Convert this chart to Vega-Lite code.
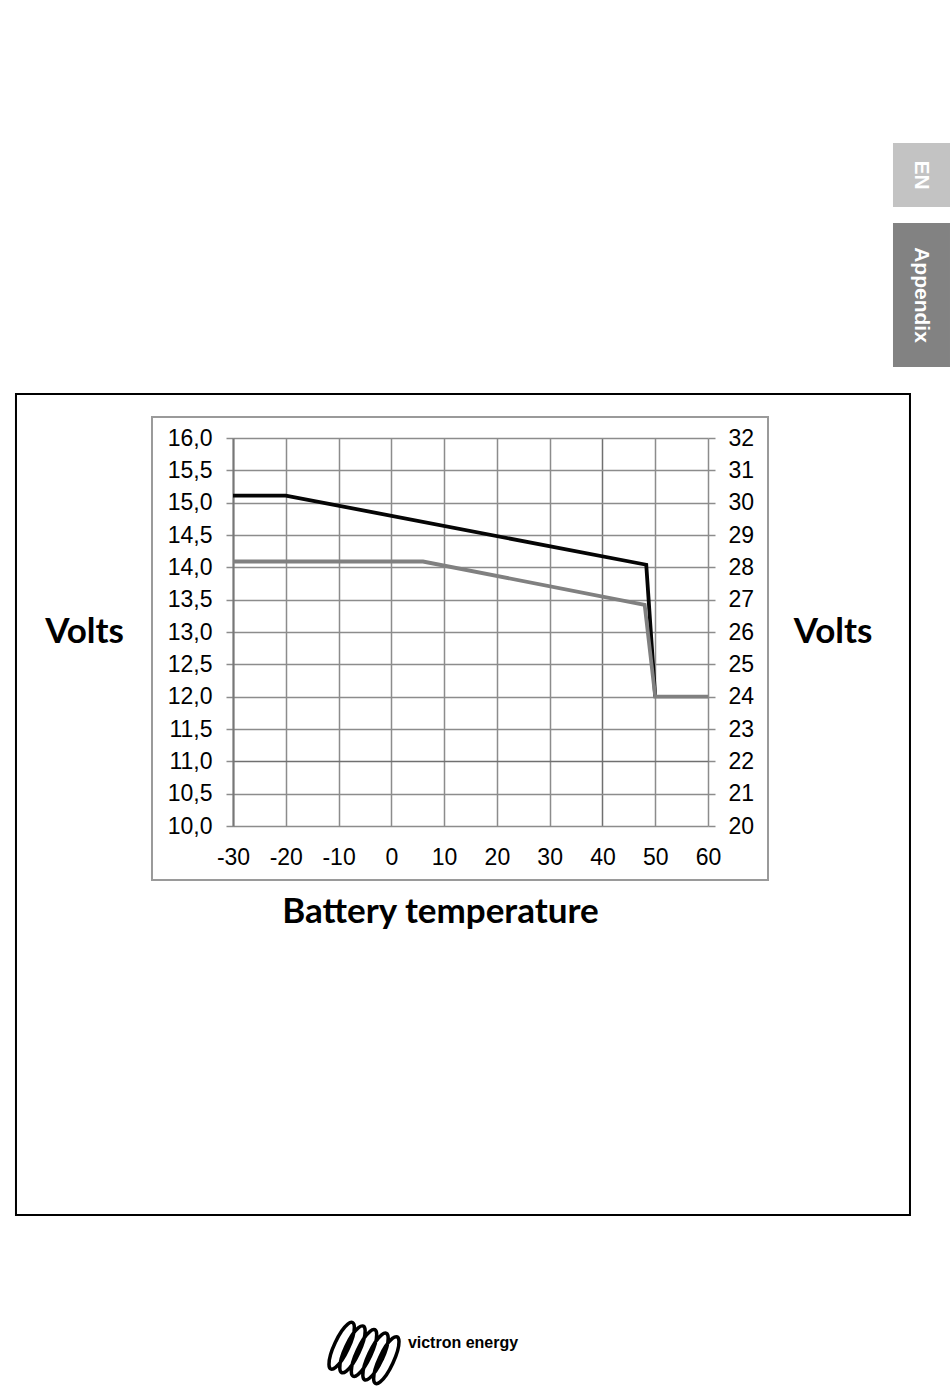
{
  "$schema": "https://vega.github.io/schema/vega-lite/v6.json",
  "width": 475,
  "height": 388,
  "autosize": {"type": "none"},
  "padding": {"left": 233, "top": 438, "right": 242, "bottom": 566},
  "background": "white",
  "config": {"view": {"stroke": null}},
  "datasets": {
    "lines": [
      {"temp": -30, "volts": 15.11, "series": "absorption"},
      {"temp": -20, "volts": 15.11, "series": "absorption"},
      {"temp": 48.3, "volts": 14.04, "series": "absorption"},
      {"temp": 50, "volts": 12.0, "series": "absorption"},
      {"temp": -30, "volts": 14.09, "series": "float"},
      {"temp": 6, "volts": 14.09, "series": "float"},
      {"temp": 48, "volts": 13.42, "series": "float"},
      {"temp": 50, "volts": 12.0, "series": "float"},
      {"temp": 60, "volts": 12.0, "series": "float"}
    ],
    "one": [{"k": 1}]
  },
  "layer": [
    {
      "data": {"name": "one"},
      "mark": {"type": "rect", "filled": false, "stroke": "#000000", "strokeWidth": 2},
      "encoding": {
        "x": {"datum": -71.12, "type": "quantitative", "scale": {"domain": [-30, 60], "nice": false, "zero": false}, "axis": null},
        "x2": {"datum": 98.27},
        "y": {"datum": 16.68, "type": "quantitative", "scale": {"domain": [10, 16], "nice": false, "zero": false}, "axis": null},
        "y2": {"datum": 3.985}
      }
    },
    {
      "data": {"name": "one"},
      "mark": {"type": "rect", "filled": false, "stroke": "#9a9a9a", "strokeWidth": 2},
      "encoding": {
        "x": {"datum": -45.35, "type": "quantitative", "scale": {"domain": [-30, 60], "nice": false, "zero": false}, "axis": null},
        "x2": {"datum": 71.37},
        "y": {"datum": 16.325, "type": "quantitative", "scale": {"domain": [10, 16], "nice": false, "zero": false}, "axis": null},
        "y2": {"datum": 9.165}
      }
    },
    {
      "data": {"name": "one"},
      "mark": {"type": "rect", "fill": "#c3c3c3"},
      "encoding": {
        "x": {"datum": 95.05, "type": "quantitative", "scale": {"domain": [-30, 60], "nice": false, "zero": false}, "axis": null},
        "x2": {"datum": 105.85},
        "y": {"datum": 20.562, "type": "quantitative", "scale": {"domain": [10, 16], "nice": false, "zero": false}, "axis": null},
        "y2": {"datum": 19.572}
      }
    },
    {
      "data": {"name": "one"},
      "mark": {"type": "rect", "fill": "#828282"},
      "encoding": {
        "x": {"datum": 95.05, "type": "quantitative", "scale": {"domain": [-30, 60], "nice": false, "zero": false}, "axis": null},
        "x2": {"datum": 105.85},
        "y": {"datum": 19.325, "type": "quantitative", "scale": {"domain": [10, 16], "nice": false, "zero": false}, "axis": null},
        "y2": {"datum": 17.098}
      }
    },
    {
      "data": {"name": "one"},
      "mark": {"type": "text", "text": "EN", "angle": 90, "align": "center", "baseline": "middle", "font": "Liberation Sans", "fontWeight": "bold", "fontSize": 21, "color": "#ffffff"},
      "encoding": {
        "x": {"datum": 100.36, "type": "quantitative", "scale": {"domain": [-30, 60], "nice": false, "zero": false}, "axis": null},
        "y": {"datum": 20.067, "type": "quantitative", "scale": {"domain": [10, 16], "nice": false, "zero": false}, "axis": null}
      }
    },
    {
      "data": {"name": "one"},
      "mark": {"type": "text", "text": "Appendix", "angle": 90, "align": "center", "baseline": "middle", "font": "Liberation Sans", "fontWeight": "bold", "fontSize": 21, "color": "#ffffff"},
      "encoding": {
        "x": {"datum": 100.36, "type": "quantitative", "scale": {"domain": [-30, 60], "nice": false, "zero": false}, "axis": null},
        "y": {"datum": 18.211, "type": "quantitative", "scale": {"domain": [10, 16], "nice": false, "zero": false}, "axis": null}
      }
    },
    {
      "data": {"name": "one"},
      "mark": {"type": "text", "text": "victron energy", "align": "center", "baseline": "middle", "font": "Liberation Sans", "fontWeight": "bold", "fontSize": 16, "color": "#000000"},
      "encoding": {
        "x": {"datum": 13.58, "type": "quantitative", "scale": {"domain": [-30, 60], "nice": false, "zero": false}, "axis": null},
        "y": {"datum": 2.005, "type": "quantitative", "scale": {"domain": [10, 16], "nice": false, "zero": false}, "axis": null}
      }
    },
    {
      "data": {"name": "one"},
      "mark": {"type": "point", "filled": false, "stroke": "#000000", "strokeWidth": 3.5, "opacity": 1, "size": 5184,
        "shape": "M -0.439 -0.115 A 0.2 0.7 25 1 0 -0.801 -0.285 A 0.2 0.7 25 1 0 -0.439 -0.115 M -0.139 -0.015 A 0.2 0.7 25 1 0 -0.501 -0.185 A 0.2 0.7 25 1 0 -0.139 -0.015 M 0.181 0.085 A 0.2 0.7 25 1 0 -0.181 -0.085 A 0.2 0.7 25 1 0 0.181 0.085 M 0.501 0.185 A 0.2 0.7 25 1 0 0.139 0.015 A 0.2 0.7 25 1 0 0.501 0.185 M 0.801 0.285 A 0.2 0.7 25 1 0 0.439 0.115 A 0.2 0.7 25 1 0 0.801 0.285"},
      "encoding": {
        "x": {"datum": -5.18, "type": "quantitative", "scale": {"domain": [-30, 60], "nice": false, "zero": false}, "axis": null},
        "y": {"datum": 1.851, "type": "quantitative", "scale": {"domain": [10, 16], "nice": false, "zero": false}, "axis": null}
      }
    },
    {
      "data": {"name": "lines"},
      "mark": {"type": "line", "strokeWidth": 3.8},
      "encoding": {
        "x": {
          "field": "temp", "type": "quantitative",
          "scale": {"domain": [-30, 60], "nice": false, "zero": false},
          "axis": {
            "orient": "bottom",
            "values": [-30, -20, -10, 0, 10, 20, 30, 40, 50, 60],
            "labelExpr": "datum.value + ''",
            "labelOverlap": false,
            "labelFlush": false,
            "grid": true,
            "gridColor": {"condition": {"test": "datum.value === 40", "value": "#707070"}, "value": "#8c8c8c"},
            "gridWidth": 1.5,
            "ticks": false,
            "domain": false,
            "labelFont": "Liberation Sans",
            "labelFontSize": 23,
            "labelColor": "#000000",
            "labelBaseline": "alphabetic",
            "labelPadding": 38,
            "title": "Battery temperature",
            "titleFont": "Lato",
            "titleFontWeight": "bold",
            "titleFontSize": 35,
            "titleColor": "#000000",
            "titleAlign": "center",
            "titleBaseline": "alphabetic",
            "titleX": 207,
            "titleY": 96
          }
        },
        "y": {
          "field": "volts", "type": "quantitative",
          "scale": {"domain": [10, 16], "nice": false, "zero": false},
          "axis": {
            "orient": "left",
            "values": [10, 10.5, 11, 11.5, 12, 12.5, 13, 13.5, 14, 14.5, 15, 15.5, 16],
            "labelExpr": "replace(format(datum.value, '.1f'), '.', ',')",
            "labelOverlap": false,
            "labelFlush": false,
            "grid": true,
            "gridColor": {"condition": {"test": "datum.value === 11", "value": "#707070"}, "value": "#8c8c8c"},
            "gridWidth": 1.5,
            "ticks": true,
            "tickSize": 7,
            "tickColor": "#8c8c8c",
            "tickWidth": 1.5,
            "domain": true,
            "domainColor": "#777777",
            "domainWidth": 2,
            "labelFont": "Liberation Sans",
            "labelFontSize": 23,
            "labelColor": "#000000",
            "labelPadding": 14,
            "title": "Volts",
            "titleFont": "Lato",
            "titleFontWeight": "bold",
            "titleFontSize": 35,
            "titleColor": "#000000",
            "titleAngle": 0,
            "titleAlign": "center",
            "titleBaseline": "alphabetic",
            "titleX": -149,
            "titleY": 204
          }
        },
        "color": {
          "field": "series", "type": "nominal",
          "scale": {"domain": ["absorption", "float"], "range": ["#050505", "#808080"]},
          "legend": null
        }
      }
    },
    {
      "data": {"name": "lines"},
      "mark": {"type": "point", "opacity": 0},
      "encoding": {
        "y": {
          "field": "volts", "type": "quantitative",
          "scale": {"domain": [10, 16], "nice": false, "zero": false},
          "axis": {
            "orient": "right",
            "values": [10, 10.5, 11, 11.5, 12, 12.5, 13, 13.5, 14, 14.5, 15, 15.5, 16],
            "labelExpr": "format(datum.value * 2, 'd')",
            "labelOverlap": false,
            "labelFlush": false,
            "grid": false,
            "ticks": true,
            "tickSize": 7,
            "tickColor": "#8c8c8c",
            "tickWidth": 1.5,
            "domain": false,
            "labelFont": "Liberation Sans",
            "labelFontSize": 23,
            "labelColor": "#000000",
            "labelPadding": 13,
            "title": "Volts",
            "titleFont": "Lato",
            "titleFontWeight": "bold",
            "titleFontSize": 35,
            "titleColor": "#000000",
            "titleAngle": 0,
            "titleAlign": "center",
            "titleBaseline": "alphabetic",
            "titleX": 124.5,
            "titleY": 204
          }
        }
      }
    }
  ],
  "resolve": {"axis": {"x": "independent", "y": "independent"}}
}
